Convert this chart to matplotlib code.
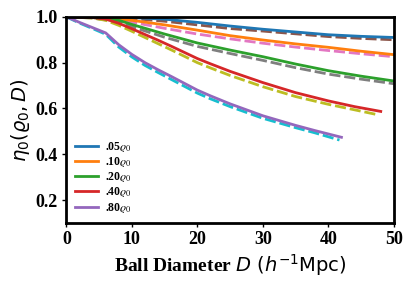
import matplotlib
matplotlib.use("Agg")
import matplotlib.pyplot as plt
from matplotlib.font_manager import FontProperties

plt.rcParams['font.family'] = 'serif'
plt.rcParams['font.serif'] = ['Liberation Serif', 'DejaVu Serif']
plt.rcParams['mathtext.fontset'] = 'dejavusans'

# ---- data ----
labels = ['.05$\\varrho_0$', '.10$\\varrho_0$', '.20$\\varrho_0$', '.40$\\varrho_0$', '.80$\\varrho_0$']

x_blue = [0, 5, 10, 15, 20, 25, 30, 35, 40, 45, 50]
y_blue = [1.0, 1.0, 0.997, 0.99, 0.976, 0.96, 0.946, 0.934, 0.922, 0.915, 0.910]
x_brown = [0, 5, 10, 15, 20, 25, 30, 35, 40, 45, 50]
y_brown = [1.0, 0.999, 0.993, 0.981, 0.965, 0.949, 0.938, 0.926, 0.914, 0.906, 0.900]

x_orange = [0, 5, 10, 15, 20, 25, 30, 35, 40, 45, 50]
y_orange = [1.0, 0.999, 0.985, 0.965, 0.942, 0.918, 0.899, 0.882, 0.867, 0.850, 0.835]
x_pink = [0, 5, 10, 15, 20, 25, 30, 35, 40, 45, 50]
y_pink = [1.0, 0.997, 0.977, 0.950, 0.925, 0.904, 0.885, 0.868, 0.853, 0.839, 0.826]

x_green = [0, 4, 8, 10, 15, 20, 25, 30, 35, 40, 45, 50]
y_green = [1.0, 0.997, 0.985, 0.967, 0.925, 0.886, 0.855, 0.826, 0.794, 0.765, 0.741, 0.720]
x_gray = [0, 4, 8, 10, 15, 20, 25, 30, 35, 40, 45, 50]
y_gray = [1.0, 0.995, 0.978, 0.957, 0.911, 0.871, 0.840, 0.810, 0.778, 0.750, 0.728, 0.708]

x_red = [0, 4, 6, 8, 10, 12, 14, 16, 18, 20, 22, 25, 30, 35, 40, 44, 48]
y_red = [1.0, 0.997, 0.990, 0.972, 0.948, 0.923, 0.898, 0.872, 0.845, 0.818, 0.795, 0.762, 0.713, 0.669, 0.633, 0.608, 0.587]
x_olive = [0, 4, 6, 8, 10, 12, 14, 16, 18, 20, 22, 25, 30, 35, 40, 44, 47.3]
y_olive = [1.0, 0.995, 0.985, 0.963, 0.937, 0.910, 0.883, 0.856, 0.828, 0.800, 0.777, 0.744, 0.695, 0.652, 0.618, 0.594, 0.574]

x_purple = [0, 2, 4, 6, 8, 10, 12, 14, 16, 18, 20, 22, 25, 30, 35, 38, 42]
y_purple = [1.0, 0.976, 0.953, 0.930, 0.878, 0.836, 0.800, 0.769, 0.740, 0.710, 0.680, 0.655, 0.620, 0.568, 0.526, 0.503, 0.474]
x_cyan = [0, 2, 4, 6, 8, 10, 12, 14, 16, 18, 20, 22, 25, 30, 35, 38, 41.7]
y_cyan = [1.0, 0.973, 0.949, 0.924, 0.868, 0.825, 0.788, 0.757, 0.727, 0.697, 0.667, 0.642, 0.608, 0.557, 0.516, 0.493, 0.462]

xticks = [0, 10, 20, 30, 40, 50]
yticks = [0.2, 0.4, 0.6, 0.8, 1.0]

fig = plt.figure(figsize=(4.15, 2.91), dpi=100)
ax = fig.add_axes([0.160, 0.234, 0.789, 0.708])

lw = 2.0
solid = [(x_blue, y_blue), (x_orange, y_orange), (x_green, y_green), (x_red, y_red), (x_purple, y_purple)]
dashed = [(x_brown, y_brown), (x_pink, y_pink), (x_gray, y_gray), (x_olive, y_olive), (x_cyan, y_cyan)]
solid_c = ['C0', 'C1', 'C2', 'C3', 'C4']
dashed_c = ['C5', 'C6', 'C7', 'C8', 'C9']

for (xs, ys), c in zip(dashed, dashed_c):
    ax.plot(xs, ys, color=c, lw=lw, ls=(0, (4, 1.4)))
handles = []
for (xs, ys), c, lab in zip(solid, solid_c, labels):
    h, = ax.plot(xs, ys, color=c, lw=lw, label=lab)
    handles.append(h)

ax.set_xlim(0, 50)
ax.set_ylim(0.1, 1.0)
ax.set_xticks(xticks)
ax.set_yticks(yticks)
ax.set_xticklabels([str(t) for t in xticks], fontsize=13, fontweight='bold')
ax.set_yticklabels([f'{t:.1f}' for t in yticks], fontsize=13, fontweight='bold')
ax.tick_params(direction='out', length=3, width=1, pad=3)
for s in ax.spines.values():
    s.set_linewidth(2)

ax.set_xlabel('Ball Diameter $D\\ (h^{-1}\\mathrm{Mpc})$', fontsize=14, fontweight='bold', labelpad=3)
ax.set_ylabel('$\\eta_0(\\varrho_0, D)$', fontsize=14, labelpad=3)

lp = FontProperties(family='serif', weight='bold', size=8.5, math_fontfamily='stix')
ax.legend(handles=handles, loc='lower left', frameon=False, prop=lp,
          handlelength=2.0, handletextpad=0.6, labelspacing=0.1,
          borderaxespad=0.3, borderpad=0.4)

fig.savefig('out.png', dpi=100)
